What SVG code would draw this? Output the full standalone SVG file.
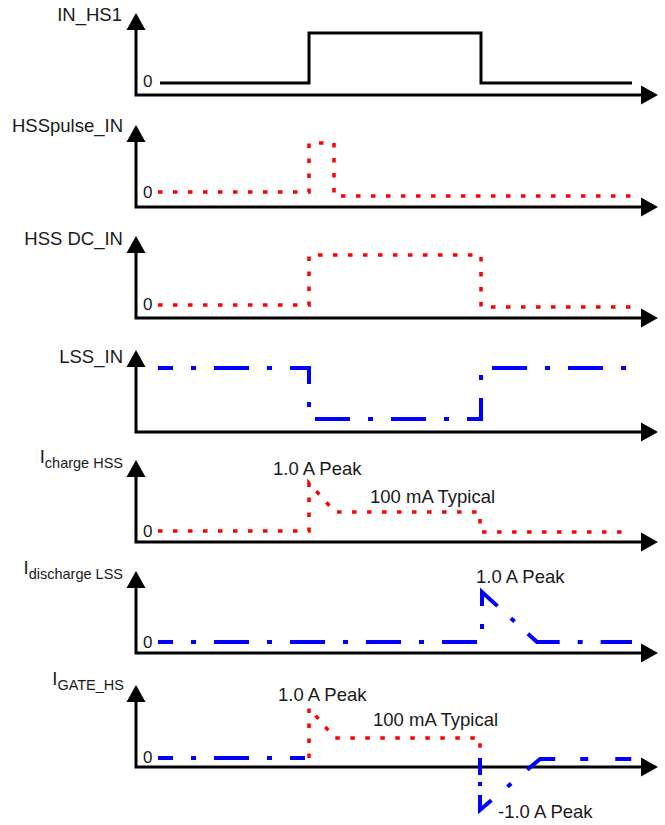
<svg xmlns="http://www.w3.org/2000/svg" width="665" height="825" viewBox="0 0 665 825">
<style>
text{font-family:"Liberation Sans",Arial,sans-serif;fill:#1a1a1a}
.lbl{font-size:18.5px;text-anchor:end}
.sub{font-size:14.5px}
.zero{font-size:17px}
.ann{font-size:18.5px}
.axis{stroke:#000;stroke-width:3;fill:none}
.ah{fill:#000}
.blk{stroke:#000;stroke-width:3;fill:none}
.red{stroke:#f00;stroke-width:3.5;fill:none;stroke-dasharray:4.5 10.5}
.blue{stroke:#00f;stroke-width:4;fill:none;stroke-dasharray:35 18 5 18;stroke-dashoffset:20}
</style>
<rect width="665" height="825" fill="#fff"/>
<defs>
<g id="axes">
<path class="axis" d="M136,15 V82 H644"/>
<polygon class="ah" points="136,0 126.5,17 145.5,17"/>
<polygon class="ah" points="658,82 641,72.5 641,91.5"/>
</g>
</defs>

<g id="in_hs1">
<use href="#axes" y="13"/>
<text class="lbl" x="122" y="21">IN_HS1</text>
<text class="zero" x="143" y="87">0</text>
<path class="blk" d="M160,83 H309 V33 H481 V83 H632"/>
</g>

<g id="hsspulse_in">
<use href="#axes" y="125"/>
<text class="lbl" x="123" y="132">HSSpulse_IN</text>
<text class="zero" x="143" y="198">0</text>
<path class="red" d="M158,192 H309 V143 H334 V196 H632"/>
</g>

<g id="hss_dc_in">
<use href="#axes" y="236"/>
<text class="lbl" x="123" y="245">HSS DC_IN</text>
<text class="zero" x="143" y="310">0</text>
<path class="red" d="M158,305 H309 V255 H481 V307 H632"/>
</g>

<g id="lss_in">
<use href="#axes" y="350"/>
<text class="lbl" x="123" y="363">LSS_IN</text>
<path class="blue" d="M158,368 H309 V419 H481 V368 H632"/>
</g>

<g id="icharge_hss">
<use href="#axes" y="460"/>
<text class="lbl" x="123" y="463">I<tspan class="sub" dy="5">charge HSS</tspan></text>
<text class="zero" x="143" y="537">0</text>
<path class="red" d="M158,531 H309 V483 L335,512 H480 V532 H632"/>
<text class="ann" x="273" y="475">1.0 A Peak</text>
<text class="ann" x="370" y="503">100 mA Typical</text>
</g>

<g id="idischarge_lss">
<use href="#axes" y="571"/>
<text class="lbl" x="123" y="574">I<tspan class="sub" dy="5">discharge LSS</tspan></text>
<text class="zero" x="143" y="648">0</text>
<path class="blue" d="M158,642 H482 V592 L537,642 H632"/>
<text class="ann" x="476" y="583">1.0 A Peak</text>
</g>

<g id="igate_hs">
<use href="#axes" y="685"/>
<text class="lbl" x="124" y="685">I<tspan class="sub" dy="5">GATE_HS</tspan></text>
<text class="zero" x="143" y="763">0</text>
<path class="blue" d="M158,758 H305"/>
<path class="red" d="M309,758 V708 L335,738 H480 V758"/>
<path class="blue" style="stroke-dasharray:17 7 4 9 30 21 5 21 32 25 8 27 16 20;stroke-dashoffset:0" d="M480,758 V810 L540,759 H632"/>
<text class="ann" x="278" y="701">1.0 A Peak</text>
<text class="ann" x="373" y="726">100 mA Typical</text>
<text class="ann" x="498" y="818">-1.0 A Peak</text>
</g>
</svg>
